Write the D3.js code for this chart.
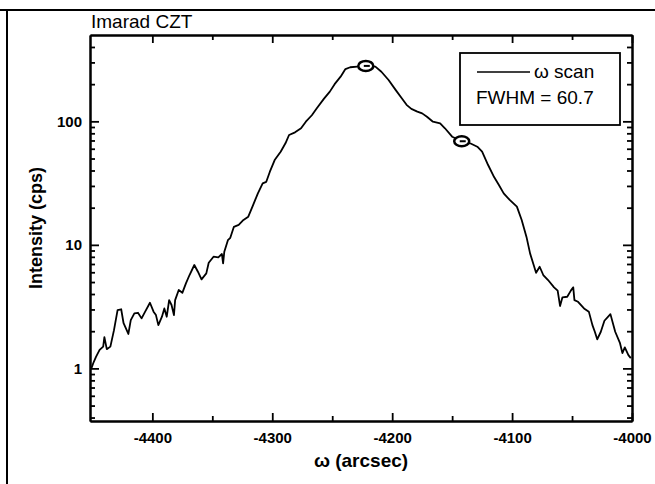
<!DOCTYPE html>
<html>
  <head>
    <meta charset="utf-8">
    <title>Imarad CZT - omega scan</title>
    <script src="https://d3js.org/d3.v7.min.js"></script>
    <style>
      body { margin: 0; background: #fff; }
      text { font-family: "Liberation Sans", Arial, Helvetica, sans-serif; fill: #000; }
    </style>
  </head>

  <body>
    <svg width="655" height="484"></svg>

    <script type="text/javascript">
      // omega scan (arcsec, cps)
      var omega = [
        -4451, -4449, -4447, -4444, -4441, -4440, -4438, -4435, -4432, -4429,
        -4426, -4424, -4420, -4418, -4415, -4412, -4409, -4406, -4402, -4399,
        -4397, -4395, -4392, -4390, -4388, -4386, -4384, -4382, -4381, -4378,
        -4375, -4372, -4369, -4365, -4362, -4359, -4355, -4353, -4349, -4345,
        -4342, -4341, -4340, -4337, -4335, -4332, -4328, -4324, -4320, -4316,
        -4312, -4308, -4305, -4302, -4298, -4293, -4289, -4286, -4281, -4276,
        -4272, -4267, -4263, -4257, -4252, -4248, -4243, -4239, -4235, -4229,
        -4222, -4214, -4209, -4203, -4197, -4192, -4188, -4184, -4179, -4175,
        -4171, -4166, -4160, -4156, -4150, -4142, -4135, -4129, -4125, -4120,
        -4115, -4111, -4107, -4102, -4096, -4092, -4088, -4085, -4082, -4080,
        -4077, -4074, -4070, -4065, -4062, -4060, -4058, -4054, -4051, -4049,
        -4048, -4045, -4040, -4036, -4033, -4031, -4029, -4026, -4023, -4018,
        -4014, -4010, -4008, -4006, -4003, -4001
      ];
      var counts = [
        0.99, 1.12, 1.24, 1.41, 1.5, 1.79, 1.43, 1.5, 2.04, 2.96,
        3.01, 2.32, 1.9, 2.46, 2.79, 2.82, 2.54, 2.88, 3.4, 2.88,
        2.7, 2.24, 2.62, 3.06, 2.62, 3.57, 3.26, 2.7, 3.57, 4.31,
        4.09, 4.88, 5.7, 6.87, 6.06, 5.26, 5.88, 7.16, 8.02, 7.93,
        8.43, 7.08, 8.79, 10.9, 11.4, 14.0, 14.5, 15.9, 16.9, 21.0,
        26.1, 31.5, 32.4, 39.1, 48.6, 56.8, 66.4, 77.5, 81.5, 87.9,
        99.3, 112, 127, 152, 174, 200, 230, 265, 274, 277,
        281, 277, 252, 216, 179, 154, 136, 126, 120, 116,
        109, 99.3, 96.4, 87.9, 75.1, 69.3, 66.4, 62.3, 56.8, 44.3,
        35.4, 30.5, 26.1, 23.1, 20.4, 15.9, 11.6, 8.53, 6.87, 5.94,
        6.65, 5.7, 5.19, 4.53, 4.26, 3.2, 3.76, 3.8, 4.26, 4.53,
        3.57, 3.46, 3.06, 2.88, 2.24, 1.98, 1.72, 1.98, 2.43, 2.75,
        1.98, 1.6, 1.33, 1.48, 1.28, 1.21
      ];

      // the two circled points on the curve
      var markOmega = [-4222, -4142];
      var markCounts = [281, 69];

      var xMajor = [-4400, -4300, -4200, -4100, -4000];
      var xMinor = [-4350, -4250, -4150, -4050];
      var yMajor = [1, 10, 100];
      var yMinor = [0.4, 0.5, 0.6, 0.7, 0.8, 0.9, 2, 3, 4, 5, 6, 7, 8, 9,
                    20, 30, 40, 50, 60, 70, 80, 90, 200, 300, 400];

      var svg = d3.select("svg");
      var pLeft = 90, pRight = 632, pTop = 35, pBottom = 421;

      var x = d3.scaleLinear().domain([-4452, -4000]).range([pLeft, pRight]);
      var y = d3.scaleLog().domain([0.375, 500]).range([pBottom, pTop]);

      // scan borders of the page
      svg.append("line").attr("x1", 0).attr("x2", 655).attr("y1", 10).attr("y2", 10)
        .attr("stroke", "#000").attr("stroke-width", 2);
      svg.append("line").attr("x1", 7).attr("x2", 7).attr("y1", 10).attr("y2", 484)
        .attr("stroke", "#000").attr("stroke-width", 2);

      function styleAxis(g) {
        g.select(".domain").attr("stroke-width", 2);
        g.selectAll(".tick line").attr("stroke-width", 1.8);
        g.selectAll("text")
          .style("font-size", "15px")
          .style("font-weight", "bold")
          .style("font-family", '"Liberation Sans", Arial, sans-serif');
      }

      var fmt = function (d) { return String(d); };

      // bottom
      svg.append("g").attr("transform", "translate(0," + pBottom + ")")
        .call(d3.axisBottom(x).tickValues(xMajor).tickSizeInner(-8).tickSizeOuter(0)
          .tickPadding(11).tickFormat(fmt))
        .call(styleAxis);
      svg.append("g").attr("transform", "translate(0," + pBottom + ")")
        .call(d3.axisBottom(x).tickValues(xMinor).tickSizeInner(-5).tickSizeOuter(0).tickFormat(""))
        .call(styleAxis);
      // top
      svg.append("g").attr("transform", "translate(0," + pTop + ")")
        .call(d3.axisTop(x).tickValues(xMajor).tickSizeInner(-8).tickSizeOuter(0).tickFormat(""))
        .call(styleAxis);
      svg.append("g").attr("transform", "translate(0," + pTop + ")")
        .call(d3.axisTop(x).tickValues(xMinor).tickSizeInner(-5).tickSizeOuter(0).tickFormat(""))
        .call(styleAxis);
      // left
      svg.append("g").attr("transform", "translate(" + pLeft + ",0)")
        .call(d3.axisLeft(y).tickValues(yMajor).tickSizeInner(-9).tickSizeOuter(0)
          .tickPadding(8).tickFormat(fmt))
        .call(styleAxis);
      svg.append("g").attr("transform", "translate(" + pLeft + ",0)")
        .call(d3.axisLeft(y).tickValues(yMinor).tickSizeInner(-5).tickSizeOuter(0).tickFormat(""))
        .call(styleAxis);
      // right
      svg.append("g").attr("transform", "translate(" + pRight + ",0)")
        .call(d3.axisRight(y).tickValues(yMajor).tickSizeInner(-9).tickSizeOuter(0).tickFormat(""))
        .call(styleAxis);
      svg.append("g").attr("transform", "translate(" + pRight + ",0)")
        .call(d3.axisRight(y).tickValues(yMinor).tickSizeInner(-5).tickSizeOuter(0).tickFormat(""))
        .call(styleAxis);

      // curve
      var line = d3.line()
        .x(function (d, i) { return x(omega[i]); })
        .y(function (d, i) { return y(counts[i]); });

      svg.append("path")
        .attr("fill", "none")
        .attr("stroke", "#000")
        .attr("stroke-width", 1.8)
        .attr("stroke-linejoin", "round")
        .attr("d", line(omega));

      // circled points
      var marks = svg.selectAll("g.mark").data(markOmega).enter().append("g")
        .attr("class", "mark")
        .attr("transform", function (d, i) {
          return "translate(" + x(d) + "," + y(markCounts[i]) + ")";
        });
      marks.append("ellipse").attr("rx", 7.5).attr("ry", 5)
        .attr("fill", "#fff").attr("stroke", "#000").attr("stroke-width", 2.5);
      marks.append("line").attr("x1", -2).attr("x2", 4).attr("y1", 0).attr("y2", 0)
        .attr("stroke", "#000").attr("stroke-width", 2);

      // legend
      svg.append("rect").attr("x", 460).attr("y", 53).attr("width", 160).attr("height", 72)
        .attr("fill", "#fff").attr("stroke", "#000").attr("stroke-width", 1.8);
      svg.append("line").attr("x1", 477).attr("x2", 530).attr("y1", 72).attr("y2", 72)
        .attr("stroke", "#000").attr("stroke-width", 1.5);
      svg.append("text").attr("x", 534).attr("y", 78)
        .style("font-size", "19px").text("ω scan");
      svg.append("text").attr("x", 476).attr("y", 104)
        .style("font-size", "19px").text("FWHM = 60.7");

      // titles
      svg.append("text").attr("x", 91).attr("y", 28)
        .style("font-size", "19px").text("Imarad CZT");

      svg.append("text")
        .attr("transform", "translate(42," + (pTop + pBottom) / 2 + ") rotate(-90)")
        .attr("text-anchor", "middle")
        .style("font-size", "18px").style("font-weight", "bold")
        .text("Intensity (cps)");

      svg.append("text").attr("x", 361).attr("y", 467)
        .attr("text-anchor", "middle")
        .style("font-size", "19px").style("font-weight", "bold")
        .text("ω (arcsec)");
    </script>
  </body>
</html>
